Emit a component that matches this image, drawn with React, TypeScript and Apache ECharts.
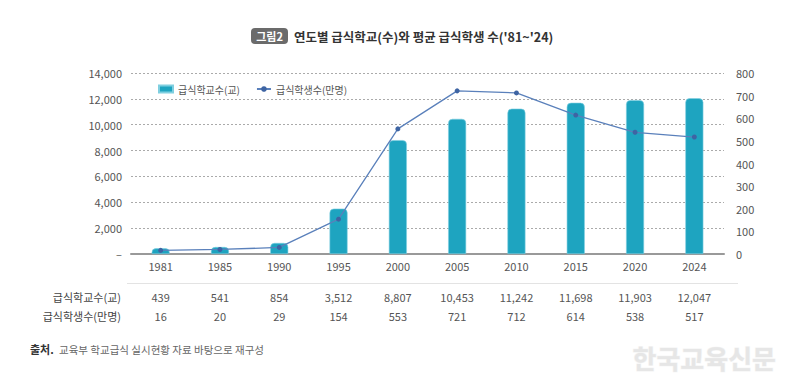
import React, { useEffect, useRef } from "react";
import * as echarts from "echarts";

const years = ["1981", "1985", "1990", "1995", "2000", "2005", "2010", "2015", "2020", "2024"];
const schools = [439, 541, 854, 3512, 8807, 10453, 11242, 11698, 11903, 12047];
const students = [16, 20, 29, 154, 553, 721, 712, 614, 538, 517];
const schoolLabel = "급식학교수(교)";
const studentLabel = "급식학생수(만명)";
const titleBadge = "그림2";
const titleText = "연도별 급식학교(수)와 평균 급식학생 수('81~'24)";
const sourceBold = "출처.";
const sourceText = "교육부 학교급식 실시현황 자료 바탕으로 재구성";
const watermark = "한국교육신문";

const FONT = "'Noto Sans CJK KR', 'Noto Sans', sans-serif";

export default function App() {
  const ref = useRef<HTMLDivElement>(null);
  useEffect(() => {
    if (!ref.current) return;
    const chart = echarts.init(ref.current, null, { renderer: "svg" });
    const fmt = (v: number) => v.toLocaleString("en-US");
    chart.setOption({
      animation: false,
      textStyle: { fontFamily: FONT },
      grid: { left: 131, right: 68, top: 73, bottom: 133, containLabel: false },
      legend: {
        left: 153,
        top: 79,
        itemWidth: 14,
        itemHeight: 7,
        itemGap: 16,
        textStyle: { fontSize: 10, color: "#555", fontFamily: FONT },
        data: [
          { name: schoolLabel, icon: "rect" },
          { name: studentLabel },
        ],
      },
      xAxis: {
        type: "category",
        data: years,
        axisLine: { lineStyle: { color: "#999", width: 2 } },
        axisTick: { show: false },
        axisLabel: {
          margin: 2,
          interval: 0,
          formatter: (v: string, i: number) =>
            `{y|${v}}\n{g| }\n{a|${fmt(schools[i])}}\n{b|${students[i]}}`,
          rich: {
            y: { fontSize: 11, color: "#555", lineHeight: 20, fontFamily: FONT },
            g: { fontSize: 6, lineHeight: 11.5 },
            a: { fontSize: 11, color: "#555", lineHeight: 19, fontFamily: FONT },
            b: { fontSize: 11, color: "#555", lineHeight: 19, fontFamily: FONT },
          },
        },
      },
      yAxis: [
        {
          type: "value",
          min: 0,
          max: 14000,
          interval: 2000,
          axisLine: { show: false },
          axisTick: { show: false },
          axisLabel: {
            margin: 9,
            fontSize: 11,
            color: "#555",
            formatter: (v: number) => (v === 0 ? "–" : fmt(v)),
          },
          splitLine: { lineStyle: { color: "#aaa", type: [2, 2], width: 1 } },
        },
        {
          type: "value",
          min: 0,
          max: 800,
          interval: 100,
          axisLine: { show: false },
          axisTick: { show: false },
          axisLabel: { margin: 12, fontSize: 11, color: "#555" },
          splitLine: { show: false },
        },
      ],
      series: [
        {
          name: schoolLabel,
          type: "bar",
          data: schools,
          barWidth: 18,
          itemStyle: {
            color: "#1ea4c0",
            borderRadius: [4, 4, 0, 0],
            borderColor: "#7fcfe0",
            borderWidth: 0.6,
          },
          z: 2,
        },
        {
          name: studentLabel,
          type: "line",
          yAxisIndex: 1,
          data: students,
          symbol: "circle",
          symbolSize: 5,
          lineStyle: { color: "#5a80bb", width: 1.3 },
          itemStyle: { color: "#3e64a3" },
          z: 3,
        },
      ],
      graphic: [
        {
          type: "rect",
          shape: { x: 251, y: 28, width: 37, height: 16, r: 4 },
          style: { fill: "#6b6b6b" },
        },
        {
          type: "text",
          x: 269.5,
          y: 36,
          style: {
            text: titleBadge,
            fill: "#fff",
            font: `bold 11px ${FONT}`,
            align: "center",
            verticalAlign: "middle",
          },
        },
        {
          type: "text",
          x: 294,
          y: 36,
          style: {
            text: titleText,
            fill: "#333",
            font: `bold 12.5px ${FONT}`,
            align: "left",
            verticalAlign: "middle",
          },
        },
        {
          type: "line",
          shape: { x1: 127, y1: 283.5, x2: 738, y2: 283.5 },
          style: { stroke: "#e3e3e3", lineWidth: 1 },
        },
        {
          type: "text",
          x: 121,
          y: 297,
          style: {
            text: schoolLabel,
            fill: "#444",
            font: `11px ${FONT}`,
            align: "right",
            verticalAlign: "middle",
          },
        },
        {
          type: "text",
          x: 121,
          y: 316,
          style: {
            text: studentLabel,
            fill: "#444",
            font: `11px ${FONT}`,
            align: "right",
            verticalAlign: "middle",
          },
        },
        {
          type: "text",
          x: 30,
          y: 349,
          style: {
            text: sourceBold,
            fill: "#333",
            font: `bold 11px ${FONT}`,
            align: "left",
            verticalAlign: "middle",
          },
        },
        {
          type: "text",
          x: 59,
          y: 349,
          style: {
            text: sourceText,
            fill: "#666",
            font: `10.5px ${FONT}`,
            align: "left",
            verticalAlign: "middle",
          },
        },
        {
          type: "text",
          x: 776,
          y: 357,
          style: {
            text: watermark,
            fill: "#e6e6e6",
            stroke: "#f4f4f4",
            lineWidth: 1,
            font: `bold 26px ${FONT}`,
            align: "right",
            verticalAlign: "middle",
          },
        },
      ],
    });
    return () => chart.dispose();
  }, []);
  return (
    <div
      ref={ref}
      style={{ position: "fixed", left: 0, top: 0, width: 792, height: 387, background: "#fff" }}
    />
  );
}
